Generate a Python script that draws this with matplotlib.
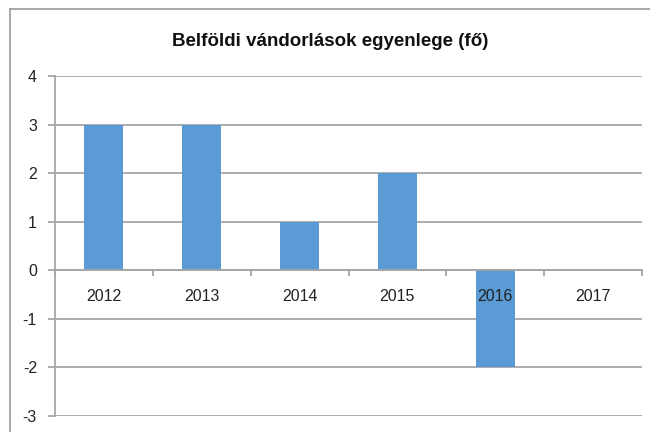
import matplotlib
matplotlib.use("Agg")
import matplotlib.pyplot as plt
import numpy as np
from matplotlib.lines import Line2D

# data
years = ["2012", "2013", "2014", "2015", "2016", "2017"]
balance = [3, 3, 1, 2, -2, 0]
y_ticks = [-3, -2, -1, 0, 1, 2, 3, 4]

plt.rcParams['font.family'] = ['Liberation Sans', 'DejaVu Sans']

fig = plt.figure(figsize=(6.5, 4.32), dpi=100)
W, H = 650, 432
ax = fig.add_axes([55 / W, 16 / H, (642 - 55) / W, (416 - 76) / H])

grey = "#a6a6a6"

# outer chart frame (left and top edges visible)
fig.add_artist(Line2D([10 / W, 10 / W], [0, 1 - 9 / H], color="#9a9a9a", lw=1.2,
                      transform=fig.transFigure))
fig.add_artist(Line2D([10 / W, 1], [1 - 9 / H, 1 - 9 / H], color="#9a9a9a", lw=1.2,
                      transform=fig.transFigure))

x = np.arange(len(years))
ax.bar(x, balance, width=0.4, color="#5b9bd5", zorder=1)

ax.set_xlim(-0.5, len(years) - 0.5)
ax.set_ylim(-3, 4)
ax.set_yticks(y_ticks)
ax.set_yticklabels([str(v) for v in y_ticks])
ax.yaxis.grid(True, color=grey, lw=1.3)
ax.set_axisbelow(True)

# horizontal axis at zero
ax.spines['bottom'].set_position(('data', 0))
ax.spines['bottom'].set_color(grey)
ax.spines['bottom'].set_linewidth(1.3)
ax.spines['bottom'].set_zorder(3)
ax.spines['left'].set_color(grey)
ax.spines['left'].set_linewidth(1.3)
ax.spines['top'].set_visible(False)
ax.spines['right'].set_visible(False)

# category labels drawn as text so they sit on top of the bars
ax.set_xticks(np.arange(-0.5, len(years), 1.0))
ax.set_xticklabels([])
ax.tick_params(axis='x', length=4, color=grey, width=1.3)
for xi, lab in zip(x, years):
    ax.annotate(lab, (xi, 0), xytext=(0, -19), textcoords='offset points',
                ha='center', va='center', fontsize=11.5, color="#222222", zorder=5)

ax.tick_params(axis='y', length=5, color=grey, width=1.3, pad=8, labelsize=11.5,
               labelcolor="#222222")

fig.text(330 / W, 1 - 42 / H, "Belföldi vándorlások egyenlege (fő)", ha='center', va='center',
         fontsize=13.5, fontweight='bold', color="#111111")

fig.savefig("out.png", dpi=100)
